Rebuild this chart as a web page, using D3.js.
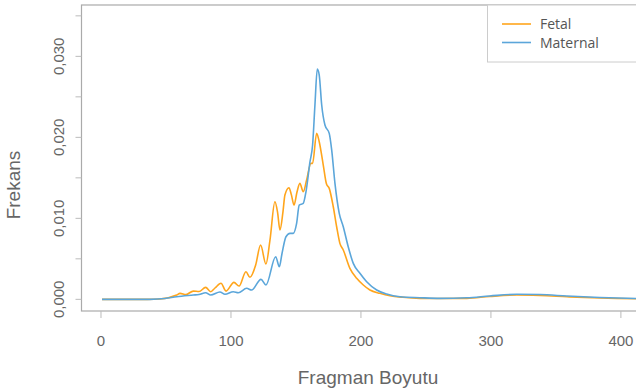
<!DOCTYPE html>
<html>
<head>
<meta charset="utf-8">
<script src="https://cdn.jsdelivr.net/npm/d3@7"></script>
<style>
  body { margin: 0; background: #fff; }
  svg { display: block; }
  .axis-text { font-family: "Liberation Sans", Arial, sans-serif; fill: #666; }
  .legend-text { font-family: "Open Sans", sans-serif; fill: #555; font-size: 14px; }
</style>
</head>
<body>
<svg id="chart" width="636" height="391"></svg>
<script>
// fragment size (x) and density (y)
let fetalX = [0.8, 35.4, 45.4, 58.2, 60.8, 65.4, 71, 75.4, 80.5, 84.4, 87.7, 92.3, 96.2, 102.3, 106.2,
  111.5, 114.6, 119, 122.8, 126.9, 130, 133.8, 135.8, 137.7, 140, 141.5, 144.6, 146.5, 148.5, 150.8,
  153, 155.6, 158.2, 161.5, 162.8, 165.9, 167.9, 171, 173.5, 175.6, 178.7, 181.3, 183.8, 186.4,
  191.5, 196.7, 201.8, 206.9, 214.6, 222.3, 232.3, 245.4, 260.8, 281.5, 299, 320, 337.7, 358.5,
  383.8, 411.5, 427];
let fetalY = [0, 0, 0.00005, 0.00053, 0.00074, 0.0006, 0.00102, 0.00096, 0.00148, 0.00094, 0.0014,
  0.00198, 0.00102, 0.0021, 0.00164, 0.0034, 0.00272, 0.00423, 0.0067, 0.00436, 0.0073, 0.01205,
  0.0108, 0.00856, 0.0108, 0.01288, 0.01378, 0.0129, 0.01164, 0.01325, 0.01432, 0.01328, 0.01473,
  0.01679, 0.01679, 0.02049, 0.01946, 0.01658, 0.01423, 0.0137, 0.01143, 0.00896, 0.00691, 0.00609,
  0.00383, 0.00259, 0.00177, 0.00115, 0.00074, 0.00044, 0.00025, 0.00012, 0.0001, 0.00012, 0.00035,
  0.00053, 0.00047, 0.00032, 0.00016, 0.00007, 0.00005];

let maternalX = [0.8, 37.7, 49.2, 58.2, 71, 75.4, 80.5, 84.4, 91.5, 95.4, 101.8, 105.6, 112.1, 115.9,
  123.1, 126.9, 134.4, 137.2, 139.2, 142.3, 145.4, 147.9, 150.5, 152.5, 155.6, 157.7, 160.8, 162.8,
  164.6, 166.4, 167.9, 169.8, 172.3, 175.6, 177.5, 180, 183.3, 186.4, 190.2, 194.1, 199.2, 204.4,
  212.1, 219.8, 230, 245.4, 260.8, 281.5, 299, 320, 337.7, 358.5, 383.8, 411.5, 427];
let maternalY = [0, 0, 0.0001, 0.00032, 0.00053, 0.0006, 0.00081, 0.00053, 0.0009, 0.00062, 0.00094,
  0.00081, 0.00136, 0.00115, 0.00247, 0.00177, 0.00526, 0.00402, 0.0056, 0.00773, 0.00815, 0.00815,
  0.00938, 0.01164, 0.01185, 0.01328, 0.01699, 0.01905, 0.02399, 0.02843, 0.02769, 0.02399, 0.02152,
  0.02049, 0.01843, 0.01432, 0.01062, 0.00896, 0.00649, 0.00444, 0.00321, 0.00217, 0.00115, 0.00065,
  0.00032, 0.0002, 0.00012, 0.00019, 0.00041, 0.00062, 0.00059, 0.00041, 0.00022, 0.0001, 0.00008];

let xTicks = [0, 100, 200, 300, 400];
let yTicks = [0, 0.005, 0.01, 0.015, 0.02, 0.025, 0.03, 0.035];
let yLabelTicks = [0, 0.01, 0.02, 0.03];
let seriesNames = ["Fetal", "Maternal"];
let seriesColors = ["#FFA51C", "#5BA6DA"];

let svg = d3.select("#chart");
let plotL = 81.5, plotT = 5, plotR = 656, plotB = 311;

let x = d3.scaleLinear().domain([-15, 427]).range([plotL, plotR]);
let y = d3.scaleLinear().domain([-0.00144, 0.03634]).range([plotB, plotT]);

svg.append("clipPath").attr("id", "plot-clip")
  .append("rect")
  .attr("x", plotL).attr("y", plotT)
  .attr("width", plotR - plotL).attr("height", plotB - plotT);

// density lines
let series = [
  { name: seriesNames[0], color: seriesColors[0], pts: fetalX.map((d, i) => ({ x: d, y: fetalY[i] })) },
  { name: seriesNames[1], color: seriesColors[1], pts: maternalX.map((d, i) => ({ x: d, y: maternalY[i] })) }
];

let line = d3.line()
  .x(d => x(d.x))
  .y(d => y(d.y))
  .curve(d3.curveMonotoneX)
;

svg.append("g").attr("clip-path", "url(#plot-clip)")
  .selectAll(".density")
  .data(series)
  .enter()
  .append("path")
  .attr("class", "density")
  .attr("fill", "none")
  .attr("stroke", s => s.color)
  .attr("stroke-width", 1.6)
  .attr("stroke-linejoin", "round")
  .attr("d", s => line(s.pts))
;

// plot frame
svg.append("rect")
  .attr("x", plotL).attr("y", plotT)
  .attr("width", plotR - plotL).attr("height", plotB - plotT)
  .attr("fill", "none")
  .attr("stroke", "#aaa")
  .attr("stroke-width", 1.2)
;

// x axis ticks
svg.append("g")
  .selectAll("line")
  .data(xTicks)
  .enter()
  .append("line")
  .attr("x1", d => x(d)).attr("x2", d => x(d))
  .attr("y1", plotB).attr("y2", plotB + 7)
  .attr("stroke", "#bbb")
;
svg.append("g")
  .selectAll("text")
  .data(xTicks)
  .enter()
  .append("text")
  .attr("class", "axis-text")
  .attr("x", d => x(d))
  .attr("y", 346)
  .attr("text-anchor", "middle")
  .style("font-size", "15px")
  .text(d => d)
;

// y axis ticks
svg.append("g")
  .selectAll("line")
  .data(yTicks)
  .enter()
  .append("line")
  .attr("x1", plotL - 6).attr("x2", plotL)
  .attr("y1", d => y(d)).attr("y2", d => y(d))
  .attr("stroke", "#bbb")
;
let fmt = d3.format(".3f");
svg.append("g")
  .selectAll("text")
  .data(yLabelTicks)
  .enter()
  .append("text")
  .attr("class", "axis-text")
  .attr("transform", d => `translate(64,${y(d)}) rotate(-90)`)
  .attr("text-anchor", "middle")
  .style("font-size", "15px")
  .text(d => fmt(d).replace(".", ","))
;

// axis titles
svg.append("text")
  .attr("class", "axis-text")
  .attr("x", 368).attr("y", 384)
  .attr("text-anchor", "middle")
  .style("font-size", "19px")
  .text("Fragman Boyutu")
;
svg.append("text")
  .attr("class", "axis-text")
  .attr("transform", "translate(20,185) rotate(-90)")
  .attr("text-anchor", "middle")
  .style("font-size", "19px")
  .text("Frekans")
;

// legend
let legend = svg.append("g");
legend.append("rect")
  .attr("x", 487.5).attr("y", plotT)
  .attr("width", 200).attr("height", 57)
  .attr("fill", "#fff")
  .attr("stroke", "#ccc")
;
let items = legend.selectAll(".legend-item")
  .data(series)
  .enter()
  .append("g")
  .attr("class", "legend-item")
  .attr("transform", (d, i) => `translate(0,${24 + i * 18.5})`)
;
items.append("line")
  .attr("x1", 502).attr("x2", 531)
  .attr("stroke", d => d.color)
  .attr("stroke-width", 1.6)
;
items.append("text")
  .attr("class", "legend-text")
  .attr("x", 540).attr("y", 5)
  .text(d => d.name)
;
</script>
</body>
</html>
